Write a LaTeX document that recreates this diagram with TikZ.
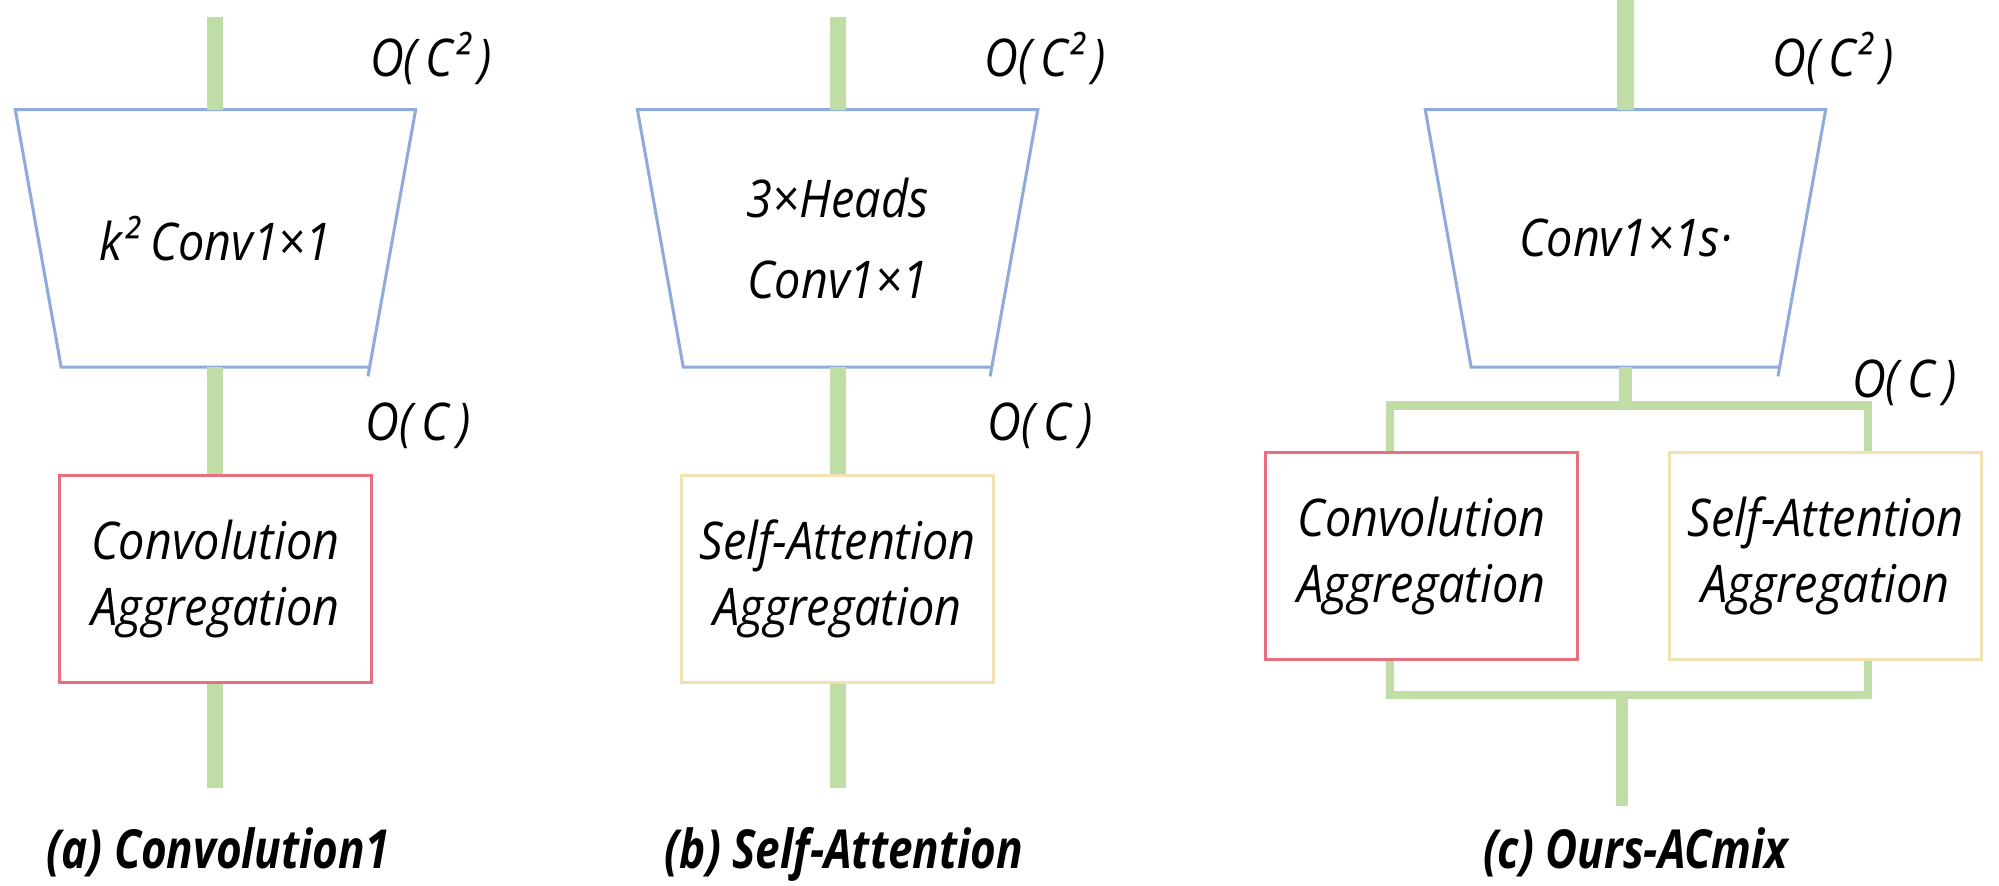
\documentclass[tikz,border=0pt]{standalone}
\usepackage{fontspec}
\setmainfont{Open Sans}[FakeStretch=0.9]
\newfontfamily\capfont{Open Sans}[FakeStretch=0.82]

\definecolor{flowgreen}{HTML}{BFDDA5}
\definecolor{projblue}{HTML}{8FAADC}
\definecolor{aggred}{HTML}{E8707E}
\definecolor{aggyellow}{HTML}{F2E2B3}

\tikzset{
  flow/.style={draw=flowgreen, line width=0.315cm},
  stub/.style={draw=flowgreen, line width=0.24cm},
  branch/.style={draw=flowgreen, line width=0.16cm},
  projtext/.style={rectangle, inner sep=0pt, outer sep=0pt, minimum width=7.85cm, minimum height=5.05cm,
    align=center, font=\itshape\fontsize{29}{45}\selectfont},
  projline/.style={draw=projblue, line width=1.7pt},
  agg/.style={rectangle, line width=1.7pt, minimum width=6.125cm, minimum height=4.05cm,
    align=center, font=\itshape\fontsize{29}{37}\selectfont},
  cost/.style={font=\itshape\fontsize{29}{35}\selectfont},
  caption/.style={anchor=base, font=\capfont\bfseries\itshape\fontsize{30}{36}\selectfont}
}

\begin{document}
\begin{tikzpicture}[x=0.025cm, y=-0.025cm]
\useasboundingbox (0,0) rectangle (1568,694.2);

%(a) convolution
\node[projtext] (convA) at (169,187) {k² Conv1×1};
\draw[projline] ([xshift=-0.9cm]convA.south east) -- ([xshift=0.9cm]convA.south west) -- (convA.north west)
  -- (convA.north east) -- ([xshift=-0.935cm,yshift=-0.18cm]convA.south east);
\node[agg, draw=aggred] (aggA) at (169,454) {Convolution\\Aggregation};
\coordinate (inA) at (169,13);
\coordinate (outA) at (169,618);
\draw[flow] (inA) -- (convA.north);
\draw[flow] (convA.south) -- (aggA.north);
\draw[flow] (aggA.south) -- (outA);
\node[cost] (costA1) at (338,46) {O(\,C²\,)};
\node[cost] (costA2) at (328,334) {O(\,C\,)};
\node[caption] (capA) at (171,681) {(a) Convolution1};

%(b) self-attention
\node[projtext] (convB) at (657,187) {3×Heads\\Conv1×1};
\draw[projline] ([xshift=-0.9cm]convB.south east) -- ([xshift=0.9cm]convB.south west) -- (convB.north west)
  -- (convB.north east) -- ([xshift=-0.935cm,yshift=-0.18cm]convB.south east);
\node[agg, draw=aggyellow] (attB) at (657,454) {Self-Attention\\Aggregation};
\coordinate (inB) at (657,13);
\coordinate (outB) at (657,618);
\draw[flow] (inB) -- (convB.north);
\draw[flow] (convB.south) -- (attB.north);
\draw[flow] (attB.south) -- (outB);
\node[cost] (costB1) at (820,46) {O(\,C²\,)};
\node[cost] (costB2) at (816,334) {O(\,C\,)};
\node[caption] (capB) at (662,681) {(b) Self-Attention};

%(c) ours
\node[projtext] (mixC) at (1275,187) {Conv1×1s·};
\draw[projline] ([xshift=-0.9cm]mixC.south east) -- ([xshift=0.9cm]mixC.south west) -- (mixC.north west)
  -- (mixC.north east) -- ([xshift=-0.935cm,yshift=-0.18cm]mixC.south east);
\node[agg, draw=aggred] (convC) at (1115,436) {Convolution\\Aggregation};
\node[agg, draw=aggyellow] (attC) at (1432,436) {Self-Attention\\Aggregation};
\coordinate (inC) at (1275,0);
\coordinate (splitC) at (1275,318);
\coordinate (tapL) at (1090,318);
\coordinate (tapR) at (1465,318);
\coordinate (sinkL) at (1090,545);
\coordinate (sinkR) at (1465,545);
\coordinate (joinC) at (1272,545);
\coordinate (outC) at (1272,632);
\draw[flow] (inC) -- (mixC.north);
\draw[stub] (mixC.south) -- (splitC);
\draw[branch] (convC.north -| tapL) -- (tapL) -- (tapR) -- (attC.north -| tapR);
\draw[branch] (convC.south -| sinkL) -- (sinkL) -- (sinkR) -- (attC.south -| sinkR);
\draw[stub] (joinC) -- (outC);
\node[cost] (costC1) at (1438,46) {O(\,C²\,)};
\node[cost] (costC2) at (1494,300) {O(\,C\,)};
\node[caption] (capC) at (1283,681) {(c) Ours-ACmix};
\end{tikzpicture}
\end{document}
